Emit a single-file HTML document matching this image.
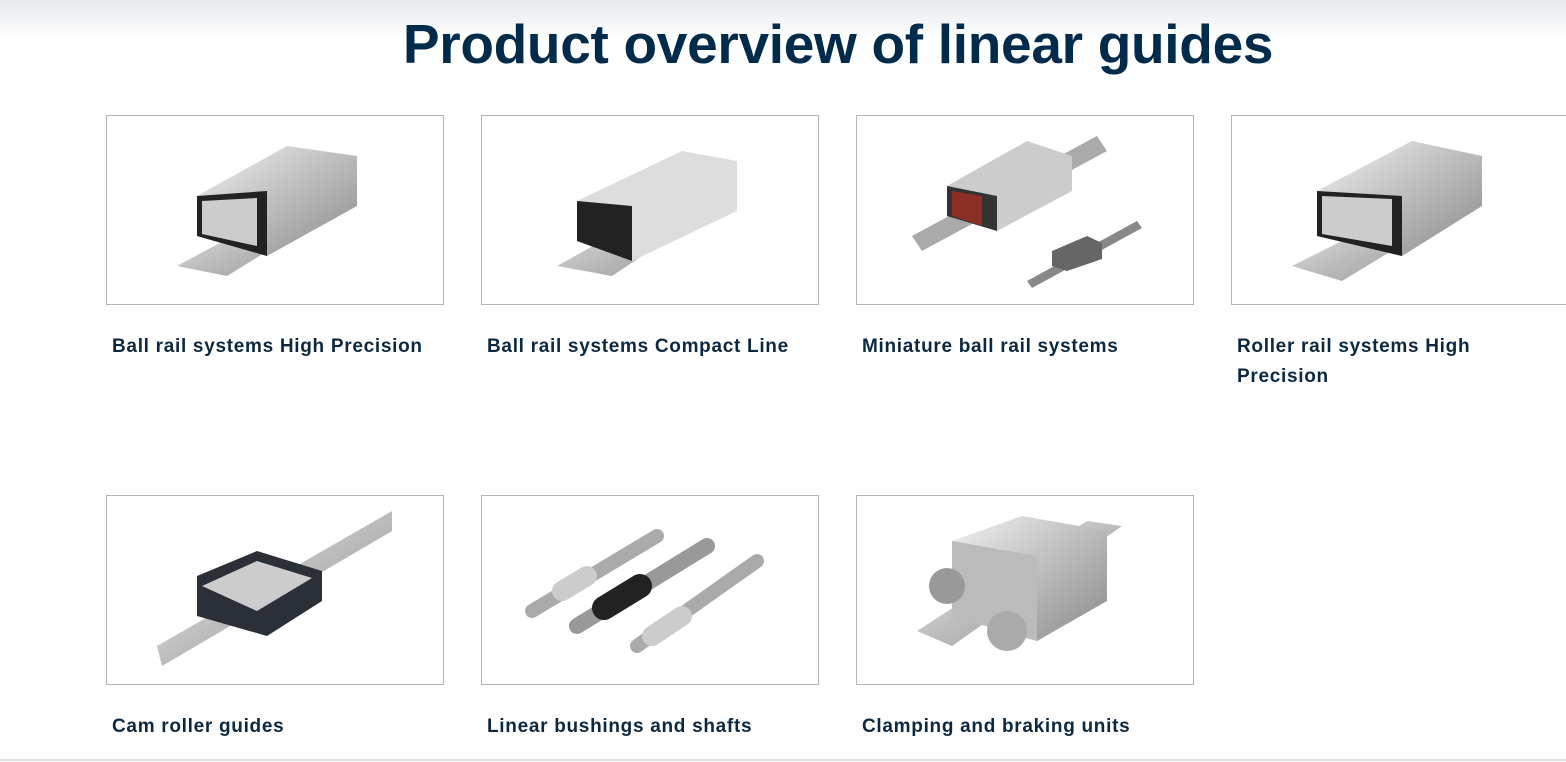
<!DOCTYPE html>
<html><head><meta charset="utf-8"><style>
body{margin:0;width:1566px;height:762px;overflow:hidden;background:#fff;font-family:"Liberation Sans",sans-serif;position:relative}
.top{position:absolute;left:0;top:0;width:1566px;height:40px;background:linear-gradient(#e6e9ec,#fff)}
h1{position:absolute;left:0;width:1676px;top:12px;margin:0;text-align:center;font-size:55px;font-weight:bold;color:#002b4b;letter-spacing:-0.3px}
.card{position:absolute;width:336px;height:188px;border:1px solid #b5b5b5;background:#fff}
.lbl{position:absolute;font-size:19px;font-weight:bold;color:#0c2840;line-height:30px;width:320px;letter-spacing:0.7px}
.bot{position:absolute;left:0;top:759px;width:1566px;height:2px;background:#e0e0e0}
</style></head><body>
<div class="top"></div>
<h1>Product overview of linear guides</h1>

<svg width="0" height="0" style="position:absolute"><defs>
<linearGradient id="m" x1="0" y1="0" x2="1" y2="1"><stop offset="0" stop-color="#f2f2f2"/><stop offset=".5" stop-color="#bdbdbd"/><stop offset="1" stop-color="#8a8a8a"/></linearGradient>
</defs></svg>

<div class="card" style="left:106px;top:115px"><svg width="336" height="188">
<polygon points="70,150 200,80 250,80 120,160" fill="url(#m)"/>
<polygon points="90,80 180,30 250,40 250,90 160,140 90,120" fill="url(#m)"/>
<polygon points="90,80 160,75 160,140 90,120" fill="#222"/>
<polygon points="95,85 150,82 150,130 95,118" fill="#ccc"/></svg></div>
<div class="card" style="left:481px;top:115px"><svg width="336" height="188">
<polygon points="75,150 200,80 250,80 130,160" fill="url(#m)"/>
<polygon points="95,85 200,35 255,45 255,95 150,145 95,125" fill="#ddd"/>
<polygon points="95,85 150,90 150,145 95,125" fill="#222"/></svg></div>
<div class="card" style="left:856px;top:115px"><svg width="336" height="188">
<polygon points="55,120 240,20 250,35 65,135" fill="#aaa"/>
<polygon points="90,70 170,25 215,40 215,75 140,115 90,100" fill="#ccc"/>
<polygon points="90,70 140,80 140,115 90,100" fill="#333"/>
<polygon points="95,75 125,80 125,110 95,100" fill="#8b2e25"/>
<polygon points="170,165 280,105 285,112 175,172" fill="#888"/>
<polygon points="195,135 230,120 245,127 245,143 210,155 195,150" fill="#666"/></svg></div>
<div class="card" style="left:1231px;top:115px;width:336px"><svg width="336" height="188">
<polygon points="60,150 200,80 250,80 110,165" fill="url(#m)"/>
<polygon points="85,75 180,25 250,40 250,90 170,140 85,120" fill="url(#m)"/>
<polygon points="85,75 170,80 170,140 85,120" fill="#222"/>
<polygon points="90,80 160,83 160,130 90,118" fill="#ccc"/></svg></div>

<div class="card" style="left:106px;top:495px"><svg width="336" height="188">
<polygon points="50,150 285,15 285,35 55,170" fill="url(#m)"/>
<polygon points="90,80 150,55 215,75 215,105 160,140 90,120" fill="#2a2f38"/>
<polygon points="95,90 150,65 205,82 150,115" fill="#ccc"/></svg></div>
<div class="card" style="left:481px;top:495px"><svg width="336" height="188" stroke-linecap="round">
<line x1="50" y1="115" x2="175" y2="40" stroke="#aaa" stroke-width="14"/>
<line x1="95" y1="130" x2="225" y2="50" stroke="#999" stroke-width="16"/>
<line x1="155" y1="150" x2="275" y2="65" stroke="#aaa" stroke-width="14"/>
<line x1="122" y1="112" x2="158" y2="90" stroke="#222" stroke-width="24"/>
<line x1="80" y1="95" x2="105" y2="80" stroke="#ccc" stroke-width="20"/>
<line x1="170" y1="140" x2="200" y2="120" stroke="#ccc" stroke-width="20"/></svg></div>
<div class="card" style="left:856px;top:495px"><svg width="336" height="188">
<polygon points="60,135 230,25 265,30 95,150" fill="url(#m)"/>
<polygon points="95,45 165,20 250,35 250,105 180,145 95,120" fill="url(#m)"/>
<polygon points="95,45 180,60 180,145 95,120" fill="#bbb"/>
<circle cx="90" cy="90" r="18" fill="#999"/><circle cx="150" cy="135" r="20" fill="#aaa"/></svg></div>

<div class="lbl" style="left:112px;top:332px">Ball rail systems High Precision</div>
<div class="lbl" style="left:487px;top:332px">Ball rail systems Compact Line</div>
<div class="lbl" style="left:862px;top:332px">Miniature ball rail systems</div>
<div class="lbl" style="left:1237px;top:332px">Roller rail systems High<br>Precision</div>
<div class="lbl" style="left:112px;top:712px">Cam roller guides</div>
<div class="lbl" style="left:487px;top:712px">Linear bushings and shafts</div>
<div class="lbl" style="left:862px;top:712px">Clamping and braking units</div>
<div class="bot"></div>
</body></html>
